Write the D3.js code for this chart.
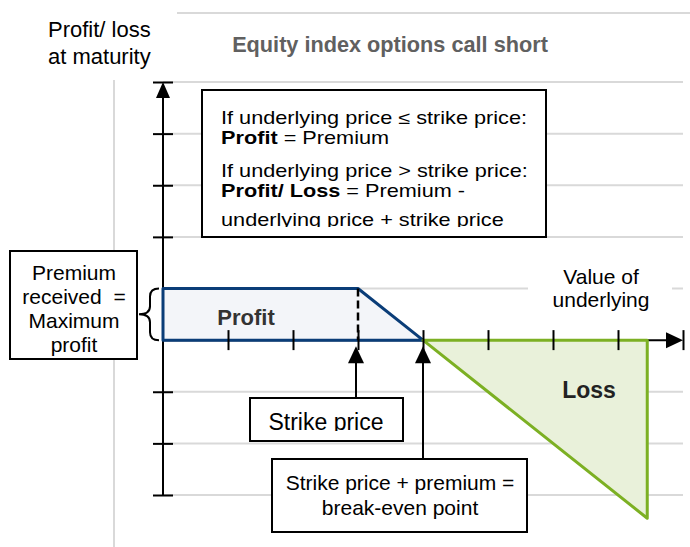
<!DOCTYPE html>
<html>
<head>
<meta charset="utf-8">
<script src="https://cdn.jsdelivr.net/npm/d3@7"></script>
<style>
  body { margin: 0; background: #fff; }
  svg text { font-family: Arial, "Liberation Sans", sans-serif; }
</style>
</head>
<body>
<div id="chart"></div>
<script>
// payoff of a short call: underlying value vs profit/loss at maturity
const underlying = [0, 3, 4, 7.45];
const profitLoss = [1, 1, 0, -3.45];
const strikePrice = 3;
const breakEven = 4;

const xTicks = [1, 2, 3, 4, 5, 6, 7, 8];
const yTicks = [-3, -2, -1, 2, 3, 4, 5];
const gridValues = [-3, -2, -1, 1, 2, 3, 4, 5];

const title = 'Equity index options call short';
const yLabel = ['Profit/ loss', 'at maturity'];
const xLabel = ['Value of', 'underlying'];
const premiumLabel = ['Premium', 'received\u00a0 =', 'Maximum', 'profit'];
const ruleLines = [
  [{ t: 'If underlying price ≤ strike price:' }],
  [{ t: 'Profit', b: true }, { t: ' = Premium' }],
  [{ t: 'If underlying price > strike price:' }],
  [{ t: 'Profit/ Loss', b: true }, { t: ' = Premium -' }],
  [{ t: 'underlying price + strike price' }],
];
const breakEvenLabel = ['Strike price + premium =', 'break-even point'];

const width = 690, height = 547;

const svg = d3.select('#chart').append('svg')
  .attr('width', width)
  .attr('height', height);

const x = d3.scaleLinear().domain([0, 8]).range([163, 683]);
const y = d3.scaleLinear().domain([-3, 5]).range([495, 82]);

const defs = svg.append('defs');

// gray grid
svg.append('line')
  .attr('x1', 177).attr('x2', 690).attr('y1', 13).attr('y2', 13)
  .attr('stroke', '#d9d9d9').attr('stroke-width', 2);
svg.append('line')
  .attr('x1', 114).attr('x2', 114).attr('y1', 80).attr('y2', 547)
  .attr('stroke', '#d9d9d9').attr('stroke-width', 2);
svg.append('g').selectAll('line')
  .data(gridValues)
  .join('line')
  .attr('x1', x(0)).attr('x2', x(8))
  .attr('y1', d => y(d)).attr('y2', d => y(d))
  .attr('stroke', '#d9d9d9').attr('stroke-width', 2);

// title + axis label
svg.append('text')
  .attr('x', 390).attr('y', 52)
  .attr('text-anchor', 'middle')
  .attr('font-size', 21.7).attr('font-weight', 'bold')
  .attr('fill', '#606060')
  .text(title);

svg.append('text')
  .attr('font-size', 22)
  .selectAll('tspan')
  .data(yLabel)
  .join('tspan')
  .attr('x', 48)
  .attr('y', (d, i) => 37 + i * 27)
  .text(d => d);

// axis lines (under the areas)
svg.append('line')
  .attr('x1', x(0)).attr('x2', x(8) - 10)
  .attr('y1', y(0)).attr('y2', y(0))
  .attr('stroke', '#000').attr('stroke-width', 2);
svg.append('line')
  .attr('x1', x(0)).attr('x2', x(0))
  .attr('y1', y(-3)).attr('y2', y(5) + 10)
  .attr('stroke', '#000').attr('stroke-width', 2);

// profit area (up to break-even) and loss area
const pts = underlying.map((u, i) => [u, profitLoss[i]]);
const profitPts = pts.filter(p => p[0] <= breakEven);
const lossPts = pts.filter(p => p[0] >= breakEven);

const area = d3.line().x(d => x(d[0])).y(d => y(d[1]));

svg.append('path')
  .attr('d', area([[0, 0]].concat(profitPts)) + 'Z')
  .attr('fill', '#f3f5f9')
  .attr('stroke', '#0a3d78')
  .attr('stroke-width', 3)
  .attr('stroke-linejoin', 'round');

const lastLoss = lossPts[lossPts.length - 1];
svg.append('path')
  .attr('d', area(lossPts.concat([[lastLoss[0], 0]])) + 'Z')
  .attr('fill', '#e9f1da')
  .attr('stroke', '#7cb023')
  .attr('stroke-width', 3)
  .attr('stroke-linejoin', 'round');

// ticks crossing the axes
const xAxis = svg.append('g')
  .attr('transform', `translate(0,${y(0)})`)
  .call(d3.axisBottom(x).tickValues(xTicks).tickFormat(''));
xAxis.select('.domain').remove();
xAxis.selectAll('.tick line')
  .attr('y1', -10).attr('y2', 10)
  .attr('stroke', '#000').attr('stroke-width', 2);

const yAxis = svg.append('g')
  .attr('transform', `translate(${x(0)},0)`)
  .call(d3.axisLeft(y).tickValues(yTicks).tickFormat(''));
yAxis.select('.domain').remove();
yAxis.selectAll('.tick line')
  .attr('x1', -10).attr('x2', 10)
  .attr('stroke', '#000').attr('stroke-width', 2);

// arrow heads
svg.append('path')
  .attr('d', `M${x(0)},${y(5)} l-7,16 l14,0 Z`)
  .attr('fill', '#000');
svg.append('path')
  .attr('d', `M${x(8)},${y(0)} l-17,-8 l0,16 Z`)
  .attr('fill', '#000');

// strike price dashed marker
svg.append('line')
  .attr('x1', x(strikePrice)).attr('x2', x(strikePrice))
  .attr('y1', y(1)).attr('y2', y(0))
  .attr('stroke', '#000').attr('stroke-width', 2.5)
  .attr('stroke-dasharray', '8,4');

// area labels
svg.append('text')
  .attr('x', 246).attr('y', 325)
  .attr('text-anchor', 'middle')
  .attr('font-size', 22).attr('font-weight', 'bold')
  .attr('fill', '#333')
  .text('Profit');
svg.append('text')
  .attr('x', 589).attr('y', 398)
  .attr('text-anchor', 'middle')
  .attr('font-size', 23).attr('font-weight', 'bold')
  .attr('fill', '#222')
  .text('Loss');

// value of underlying label, white behind it
svg.append('rect')
  .attr('x', 528).attr('y', 262).attr('width', 144).attr('height', 50)
  .attr('fill', '#fff');
svg.append('text')
  .attr('font-size', 21)
  .attr('text-anchor', 'middle')
  .selectAll('tspan')
  .data(xLabel)
  .join('tspan')
  .attr('x', 601)
  .attr('y', (d, i) => 284 + i * 23)
  .text(d => d);

// rules box (text is a bit wider than tall in the original)
defs.append('clipPath').attr('id', 'clipRules')
  .append('rect').attr('x', 202).attr('y', 90).attr('width', 344).attr('height', 137);
svg.append('rect')
  .attr('x', 202).attr('y', 90).attr('width', 344).attr('height', 147)
  .attr('fill', '#fff').attr('stroke', '#000').attr('stroke-width', 2);
const rules = svg.append('g').attr('clip-path', 'url(#clipRules)');
const ruleY = [124, 143.5, 177, 196.5, 226];
ruleLines.forEach((line, i) => {
  const t = rules.append('text')
    .attr('font-size', 17.5)
    .attr('transform', `translate(221,${ruleY[i]}) scale(1.24,1)`);
  line.forEach(part => {
    t.append('tspan')
      .attr('font-weight', part.b ? 'bold' : null)
      .text(part.t);
  });
});

// premium received box + brace
svg.append('rect')
  .attr('x', 10).attr('y', 251).attr('width', 127).attr('height', 108)
  .attr('fill', '#fff').attr('stroke', '#000').attr('stroke-width', 2);
svg.append('text')
  .attr('font-size', 21)
  .attr('text-anchor', 'middle')
  .selectAll('tspan')
  .data(premiumLabel)
  .join('tspan')
  .attr('x', 74)
  .attr('y', (d, i) => 280 + i * 24)
  .text(d => d);

const yt = y(1), yb = y(0), ym = (yt + yb) / 2;
svg.append('path')
  .attr('d', `M159,${yt} Q150,${yt} 150,${yt + 8} L150,${ym - 8} Q150,${ym} 139,${ym}` +
             ` Q150,${ym} 150,${ym + 8} L150,${yb - 8} Q150,${yb} 159,${yb}`)
  .attr('fill', 'none').attr('stroke', '#000').attr('stroke-width', 2);

// pointer arrows to strike and break-even
function pointer(xv, yEnd) {
  const px = x(xv) - (xv === strikePrice ? 2 : 0);
  svg.append('line')
    .attr('x1', px).attr('x2', px)
    .attr('y1', y(0) + 12).attr('y2', yEnd)
    .attr('stroke', '#000').attr('stroke-width', 2);
  svg.append('path')
    .attr('d', `M${px},${y(0) + 6} l-8,17 l16,0 Z`)
    .attr('fill', '#000');
}
pointer(strikePrice, 398);
pointer(breakEven, 459);

// strike price box
defs.append('clipPath').attr('id', 'clipStrike')
  .append('rect').attr('x', 250).attr('y', 398).attr('width', 153).attr('height', 33);
svg.append('rect')
  .attr('x', 250).attr('y', 398).attr('width', 153).attr('height', 43)
  .attr('fill', '#fff').attr('stroke', '#000').attr('stroke-width', 2);
svg.append('text')
  .attr('x', 326).attr('y', 430)
  .attr('text-anchor', 'middle')
  .attr('font-size', 23)
  .attr('clip-path', 'url(#clipStrike)')
  .text('Strike price');

// break-even box
svg.append('rect')
  .attr('x', 272).attr('y', 459).attr('width', 255).attr('height', 73)
  .attr('fill', '#fff').attr('stroke', '#000').attr('stroke-width', 2);
svg.append('text')
  .attr('font-size', 21)
  .attr('text-anchor', 'middle')
  .selectAll('tspan')
  .data(breakEvenLabel)
  .join('tspan')
  .attr('x', 400)
  .attr('y', (d, i) => 490 + i * 25)
  .text(d => d);
</script>
</body>
</html>
